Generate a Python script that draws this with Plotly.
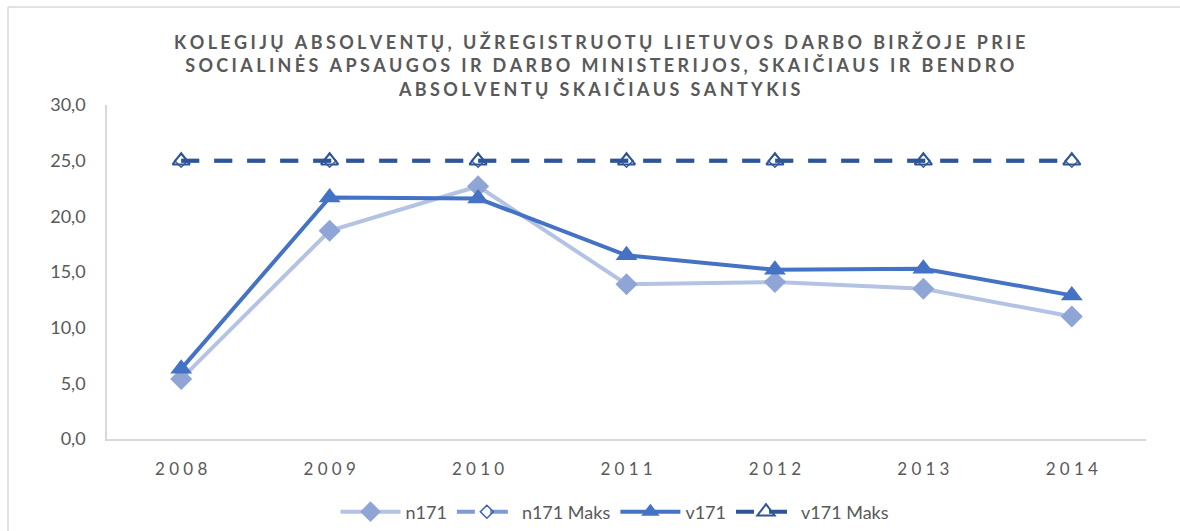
import plotly.graph_objects as go

# Data
years = ["2008", "2009", "2010", "2011", "2012", "2013", "2014"]
n171 = [5.4, 18.7, 22.7, 13.9, 14.1, 13.5, 11.0]
n171_maks = [25.0, 25.0, 25.0, 25.0, 25.0, 25.0, 25.0]
v171 = [6.3, 21.7, 21.6, 16.5, 15.2, 15.3, 12.9]
v171_maks = [25.0, 25.0, 25.0, 25.0, 25.0, 25.0, 25.0]

title_lines = [
    "KOLEGIJŲ ABSOLVENTŲ, UŽREGISTRUOTŲ LIETUVOS DARBO BIRŽOJE PRIE",
    "SOCIALINĖS APSAUGOS IR DARBO MINISTERIJOS, SKAIČIAUS IR BENDRO",
    "ABSOLVENTŲ SKAIČIAUS SANTYKIS",
]

THIN = "\u2009"
HAIR = "\u200a"


def spaced(s, sep=THIN):
    return sep.join(list(s))


TEXT = "#595959"
FONT = "Lato, 'Open Sans', sans-serif"
FRAME = "#D9D9D9"

fig = go.Figure()

fig.add_trace(go.Scatter(
    x=years, y=n171, name="n171", mode="lines+markers",
    line=dict(color="#B4C2E3", width=4),
    marker=dict(symbol="diamond", size=17, color="#8FA5D6"),
))
fig.add_trace(go.Scatter(
    x=years, y=n171_maks, name="n171 Maks", mode="lines+markers",
    line=dict(color="#7E9CD4", width=4, dash="18px,15px"),
    marker=dict(symbol="diamond-open", size=10, color="#3D5FA8",
                line=dict(width=1.5)),
))
fig.add_trace(go.Scatter(
    x=years, y=v171, name="v171", mode="lines+markers",
    line=dict(color="#4472C4", width=4),
    marker=dict(symbol="triangle-up", size=19, color="#4472C4"),
))
fig.add_trace(go.Scatter(
    x=years, y=v171_maks, name="v171 Maks", mode="lines+markers",
    line=dict(color="#2F5597", width=4, dash="18px,15px"),
    marker=dict(symbol="triangle-up-open", size=15, color="#2F5597",
                line=dict(width=2)),
))

L, R, T, B = 107, 34, 105, 92
W, H = 1180, 531
pw, ph = W - L - R, H - T - B


def px_x(p):
    return (p - L) / pw


def px_y(p):
    return (H - B - p) / ph


fig.update_layout(
    template="none",
    width=W, height=H,
    margin=dict(l=L, r=R, t=T, b=B, autoexpand=False),
    paper_bgcolor="white", plot_bgcolor="white",
    separators=", ",
    font=dict(family=FONT, color=TEXT, size=17),
    showlegend=True,
    legend=dict(
        orientation="h",
        xref="container", x=615 / W, xanchor="center",
        yref="container", y=(H - 512) / H, yanchor="middle",
        font=dict(size=18, color=TEXT),
        itemwidth=60, tracegroupgap=0, bgcolor="rgba(0,0,0,0)",
    ),
    xaxis=dict(
        type="category", range=[-0.5, 6.5], automargin=False,
        tickmode="array", tickvals=years,
        ticktext=[spaced(y, THIN + THIN) for y in years],
        showgrid=False, zeroline=False,
        showline=True, linecolor=FRAME, linewidth=1.5,
        ticks="", ticklabelstandoff=14,
        tickfont=dict(size=17, color=TEXT),
    ),
    yaxis=dict(
        range=[0, 30], dtick=5, tickformat=".1f", automargin=False,
        showgrid=False, zeroline=False,
        showline=True, linecolor=FRAME, linewidth=1.5,
        ticks="", ticklabelstandoff=16,
        tickfont=dict(size=18, color=TEXT),
    ),
    # chart-area frame: only its left and top edges fall inside the page
    shapes=[
        dict(type="line", xref="paper", yref="paper",
             x0=px_x(8), x1=px_x(8), y0=px_y(531), y1=px_y(7),
             line=dict(color=FRAME, width=1.5), layer="below"),
        dict(type="line", xref="paper", yref="paper",
             x0=px_x(8), x1=px_x(1180), y0=px_y(7), y1=px_y(7),
             line=dict(color=FRAME, width=1.5), layer="below"),
    ],
    annotations=[dict(
        xref="paper", yref="paper", x=px_x(599), y=px_y(29),
        xanchor="center", yanchor="top", showarrow=False,
        align="center",
        text="<br>".join(spaced(s, THIN + HAIR) for s in title_lines),
        font=dict(size=18, color=TEXT, family=FONT, weight="bold"),
    )],
)

fig.write_html("out.html")
